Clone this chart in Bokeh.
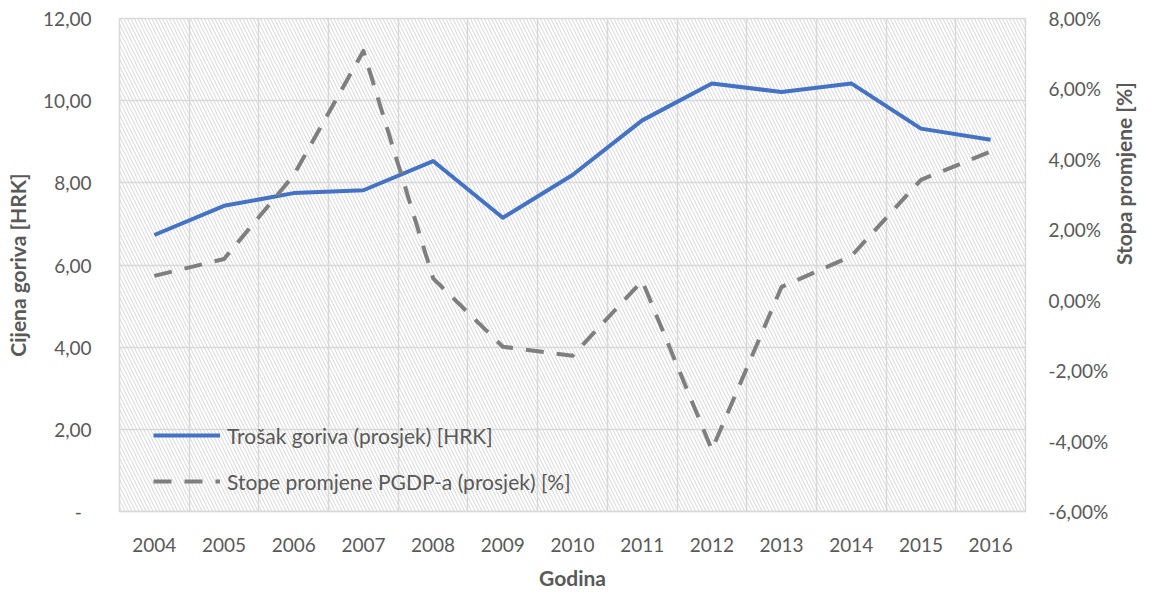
import math
from bokeh.plotting import figure
from bokeh.models import (LinearAxis, Range1d, FixedTicker, CustomJSTickFormatter,
                          BoxAnnotation, Legend, LegendItem)
from bokeh.embed import file_html
from bokeh.resources import INLINE

years = [2004, 2005, 2006, 2007, 2008, 2009, 2010, 2011, 2012, 2013, 2014, 2015, 2016]
fuel_cost = [6.73, 7.44, 7.75, 7.82, 8.53, 7.15, 8.19, 9.52, 10.42, 10.21, 10.42, 9.32, 9.05]
pgdp_rate = [0.69, 1.17, 3.55, 7.08, 0.62, -1.32, -1.58, 0.55, -4.25, 0.38, 1.25, 3.42, 4.22]
left_ticks = [0, 2, 4, 6, 8, 10, 12]
right_ticks = [-6, -4, -2, 0, 2, 4, 6, 8]

FONT = "Lato"
TXT = "#595959"
GRID = "#d9d9d9"

p = figure(width=1151, height=592, output_backend="svg", toolbar_location=None,
           x_range=Range1d(years[0] - 0.5, years[-1] + 0.5),
           y_range=Range1d(0, 12),
           min_border_left=119, min_border_right=123, min_border_top=18, min_border_bottom=78)
p.extra_y_ranges = {"pct": Range1d(-6, 8)}

p.outline_line_color = GRID
p.outline_line_width = 1.5
p.background_fill_color = "white"
p.border_fill_color = "white"

# hatched plot area
p.add_layout(BoxAnnotation(level="underlay", fill_alpha=0, line_alpha=0,
                           hatch_pattern="\\", hatch_color="#d6d6d6",
                           hatch_scale=7, hatch_weight=1))

# grids
p.xgrid.ticker = FixedTicker(ticks=[y - 0.5 for y in years] + [years[-1] + 0.5])
p.xgrid.grid_line_color = GRID
p.xgrid.grid_line_width = 1.5
p.ygrid.ticker = FixedTicker(ticks=left_ticks)
p.ygrid.grid_line_color = GRID
p.ygrid.grid_line_width = 1.5

# x axis
xa = p.xaxis[0]
xa.ticker = FixedTicker(ticks=years)
xa.axis_label = "Godina"
xa.axis_line_color = GRID
xa.axis_line_width = 1.5
xa.major_tick_line_color = None
xa.minor_tick_line_color = None
xa.major_label_standoff = 20
xa.axis_label_standoff = 10

# left axis
ya = p.yaxis[0]
ya.ticker = FixedTicker(ticks=left_ticks)
ya.formatter = CustomJSTickFormatter(code="""
    if (Math.abs(tick) < 1e-9) { return '-\\u00a0\\u00a0'; }
    return tick.toFixed(2).replace('.', ',');
""")
ya.axis_label = "Cijena goriva [HRK]"
ya.axis_line_color = None
ya.major_tick_line_color = None
ya.minor_tick_line_color = None
ya.major_label_standoff = 22
ya.axis_label_standoff = 10

# right axis
ra = LinearAxis(y_range_name="pct", ticker=FixedTicker(ticks=right_ticks))
ra.formatter = CustomJSTickFormatter(code="return tick.toFixed(2).replace('.', ',') + '%';")
ra.axis_label = "Stopa promjene [%]"
ra.axis_line_color = None
ra.major_tick_line_color = None
ra.minor_tick_line_color = None
ra.major_label_standoff = 17
ra.axis_label_standoff = 12
ra.axis_label_text_line_height = 1.0
if "axis_label_orientation" in ra.properties():
    ra.axis_label_orientation = math.pi / 2
p.add_layout(ra, "right")

for ax in [xa, ya, ra]:
    ax.major_label_text_font = FONT
    ax.major_label_text_font_size = "19px"
    ax.major_label_text_color = TXT
    ax.axis_label_text_font = FONT
    ax.axis_label_text_font_size = "21px"
    ax.axis_label_text_font_style = "bold"
    ax.axis_label_text_color = TXT

r1 = p.line(years, fuel_cost, line_color="#4472C4", line_width=4, line_join="round")
r2 = p.line(years, pgdp_rate, y_range_name="pct", line_color="#7F7F7F", line_width=4,
            line_dash="18 13", line_join="round")

legend = Legend(items=[LegendItem(label="Trošak goriva (prosjek) [HRK]", renderers=[r1]),
                       LegendItem(label="Stope promjene PGDP-a (prosjek) [%]", renderers=[r2])],
                location=(34, 17), padding=0, margin=0, spacing=20,
                glyph_width=67, glyph_height=26, label_height=26, label_standoff=7,
                label_text_font=FONT, label_text_font_size="21px", label_text_color=TXT,
                background_fill_alpha=0, border_line_alpha=0)
p.add_layout(legend, "center")

open("out.html", "w").write(file_html(p, INLINE))
